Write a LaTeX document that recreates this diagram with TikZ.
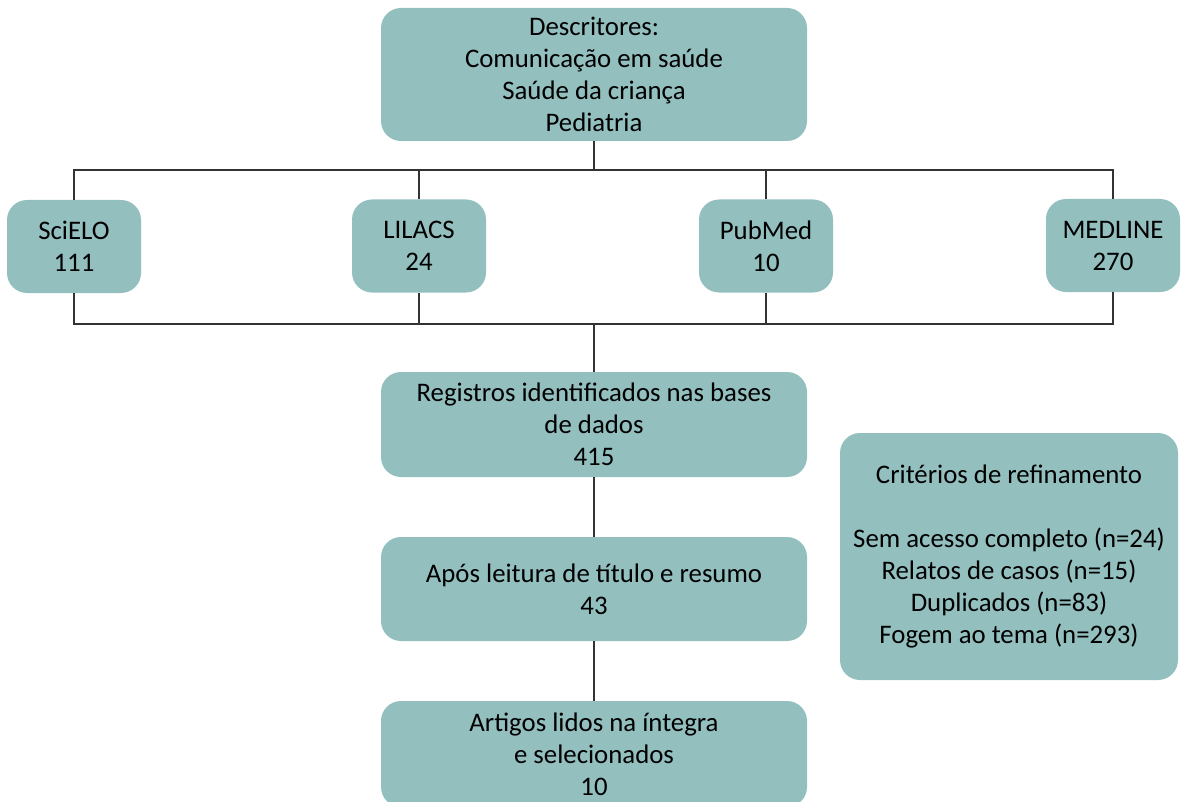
\documentclass[tikz,border=0pt]{standalone}
\usepackage{fontspec}
\setmainfont{Carlito}
\definecolor{boxteal}{HTML}{93BFBF}
\definecolor{linegray}{HTML}{333333}
\begin{document}
\begin{tikzpicture}[x=1pt,y=-1pt,
  box/.style={fill=boxteal, rounded corners=20pt, inner sep=0pt, align=center,
    font=\fontsize{26.8}{32}\selectfont},
  bigbox/.style={box, minimum width=426pt},
  dbbox/.style={box, minimum width=134pt, minimum height=93pt},
  conn/.style={draw=linegray, line width=1.1pt}]
\useasboundingbox (0,0) rectangle (1182,802);
\node[bigbox, minimum height=133pt] (top) at (594,74.5) {Descritores:\\Comunicação em saúde\\Saúde da criança\\Pediatria};
\node[dbbox] (scielo) at (74,246.5) {SciELO\\111};
\node[dbbox] (lilacs) at (419,246) {LILACS\\24};
\node[dbbox] (pubmed) at (766,246) {PubMed\\10};
\node[dbbox] (medline) at (1113,245.5) {MEDLINE\\270};
\node[bigbox, minimum height=105pt] (reg) at (594,424.5) {Registros identificados nas bases\\de dados\\415};
\node[bigbox, minimum height=104pt] (apos) at (594,589) {Após leitura de título e resumo\\43};
\node[bigbox, minimum height=106pt] (art) at (594,754) {Artigos lidos na íntegra\\e selecionados\\10};
\node[box, minimum width=338pt, minimum height=247pt] (crit) at (1009,556.5) {Critérios de refinamento\\[32pt]Sem acesso completo (n=24)\\Relatos de casos (n=15)\\Duplicados (n=83)\\Fogem ao tema (n=293)};
\coordinate (hl) at (0,170);
\coordinate (bl) at (0,324);
\draw[conn] (scielo.north) -- (scielo.north |- hl) -- (medline.north |- hl) -- (medline.north);
\draw[conn] (top.south) -- (top.south |- hl);
\draw[conn] (lilacs.north) -- (lilacs.north |- hl);
\draw[conn] (pubmed.north) -- (pubmed.north |- hl);
\draw[conn] (scielo.south) -- (scielo.south |- bl) -- (medline.south |- bl) -- (medline.south);
\draw[conn] (lilacs.south) -- (lilacs.south |- bl);
\draw[conn] (pubmed.south) -- (pubmed.south |- bl);
\draw[conn] (reg.north |- bl) -- (reg.north);
\draw[conn] (reg.south) -- (apos.north);
\draw[conn] (apos.south) -- (art.north);
\end{tikzpicture}
\end{document}
